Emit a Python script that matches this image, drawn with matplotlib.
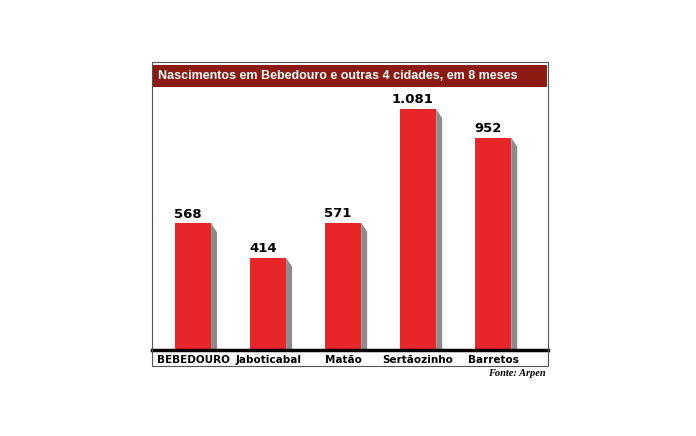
import matplotlib.pyplot as plt
from matplotlib.patches import Rectangle, Polygon

cidades = ['BEBEDOURO', 'Jaboticabal', 'Matão', 'Sertãozinho', 'Barretos']
nascimentos = [568, 414, 571, 1081, 952]
rotulos = ['568', '414', '571', '1.081', '952']

W, H = 696, 436
fig = plt.figure(figsize=(6.96, 4.36), dpi=100)
fig.patch.set_facecolor('white')

# outer frame and title bar (figure pixel coords)
fig.patches.append(Rectangle((152 / W, 1 - 366 / H), 396 / W, 304 / H,
                             transform=fig.transFigure, fill=False,
                             edgecolor='#555555', linewidth=0.8))
fig.patches.append(Rectangle((153 / W, 1 - 87 / H), 394 / W, 22 / H,
                             transform=fig.transFigure, facecolor='#8b1a10',
                             edgecolor='none'))
fig.text(158 / W, 1 - 76 / H, 'Nascimentos em Bebedouro e outras 4 cidades, em 8 meses',
         color='white', fontsize=9, fontweight='bold', va='center',
         family='Liberation Sans')

ax = fig.add_axes([152 / W, 86 / H, 396 / W, 263 / H])
ax.set_xlim(-0.547, 4.73)
ax.set_ylim(0, 1180)
ax.axis('off')

bw = 0.48
sh = 0.08
for i, v in enumerate(nascimentos):
    x0, x1 = i - bw / 2, i + bw / 2
    ax.add_patch(Polygon([(x1, v), (x1 + sh, v - 40), (x1 + sh, 0), (x1, 0)],
                         closed=True, facecolor='#8c8c8c', edgecolor='none'))
    ax.bar(i, v, width=bw, color='#e8262a', zorder=2)
    ax.text(i - 0.07, v + 12, rotulos[i], ha='center', va='bottom',
            fontsize=9.5, fontweight='bold')
    ax.text(i, -22, cidades[i], ha='center', va='top', fontsize=7.5,
            fontweight='bold', clip_on=False)

ax.plot([-0.547, 4.73], [0, 0], color='black', linewidth=2.5, clip_on=False, zorder=3)

fig.text(546 / W, 1 - 373 / H, 'Fonte: Arpen', ha='right', va='center',
         fontsize=7.5, fontstyle='italic', fontweight='bold', family='Liberation Serif')

fig.savefig('out.png', dpi=100)
